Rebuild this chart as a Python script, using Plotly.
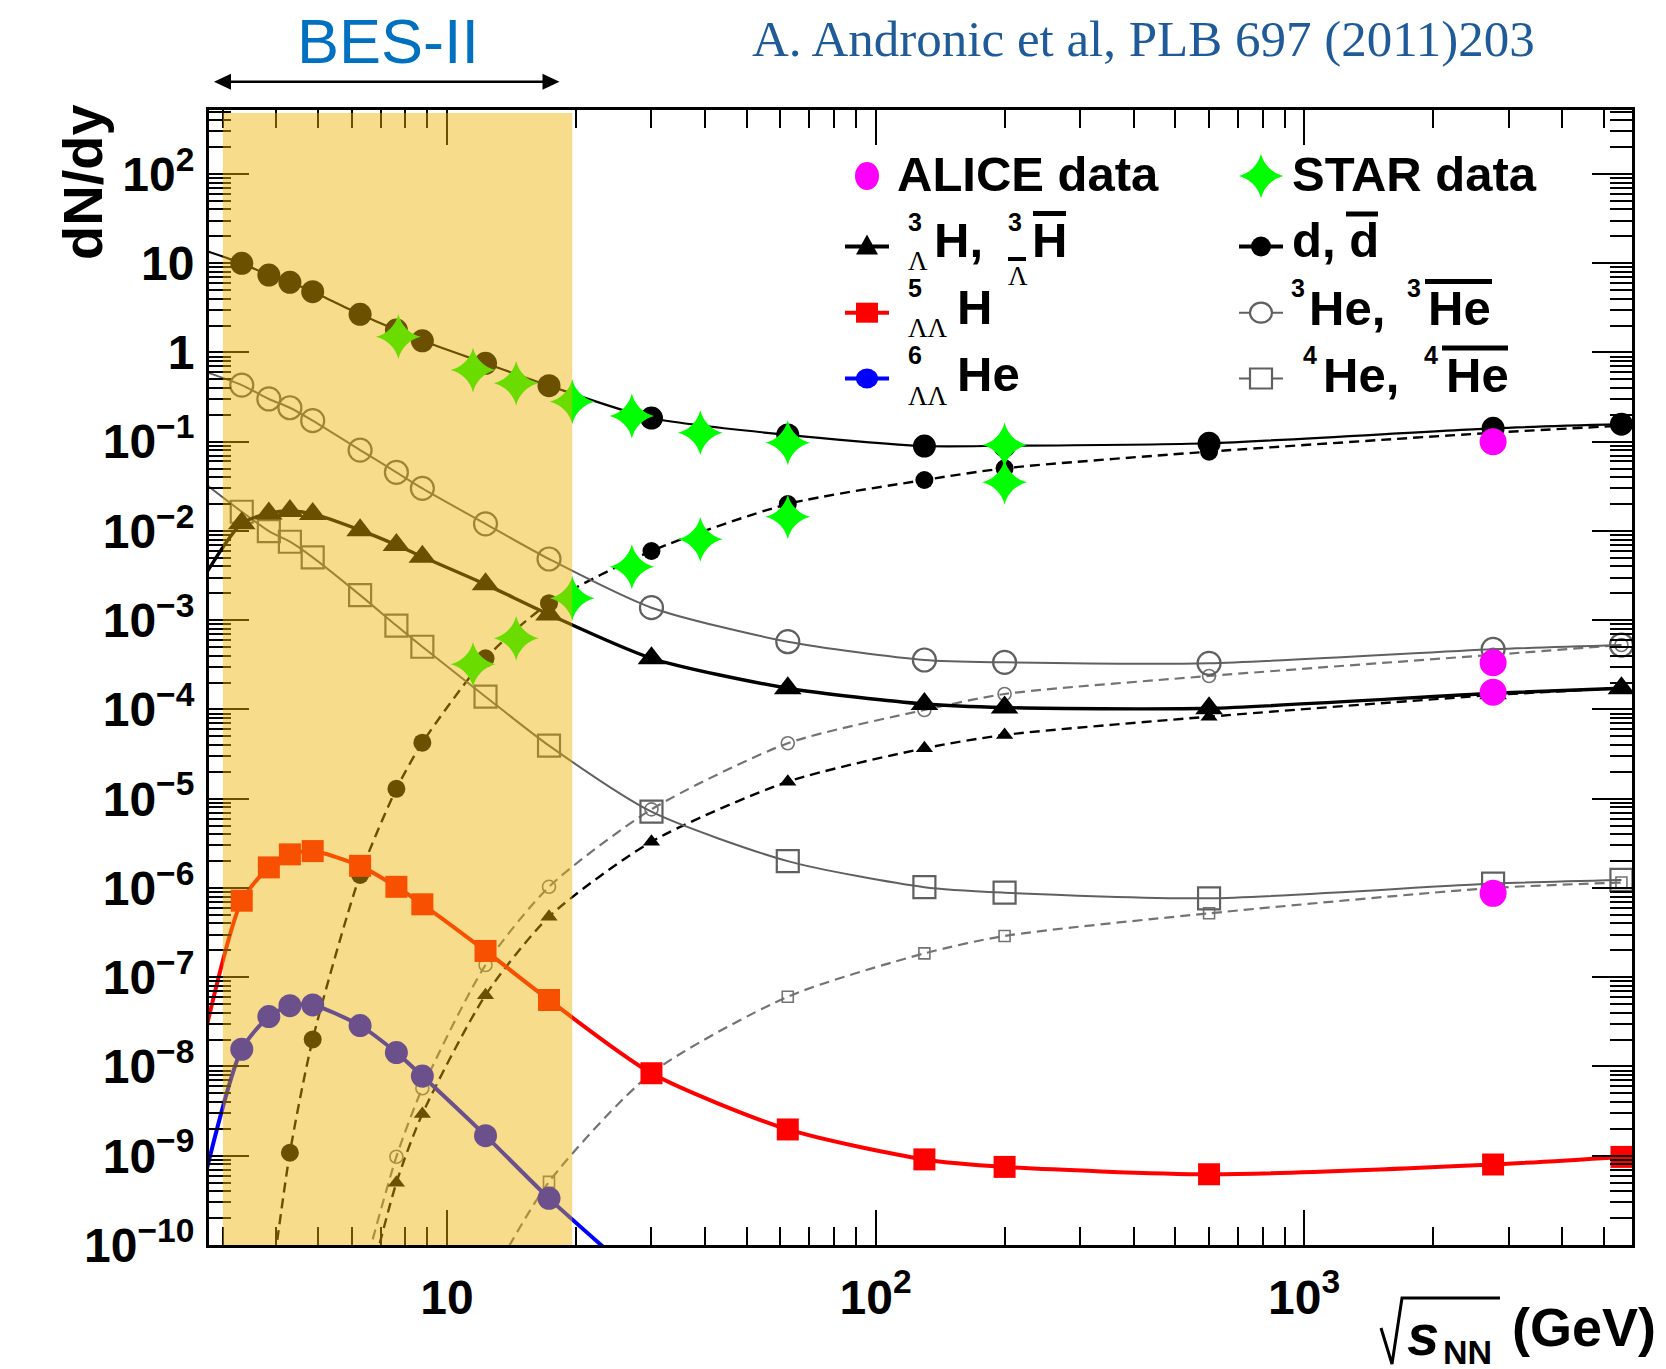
import math
import plotly.graph_objects as go

# ---------------------------------------------------------------------------
# Thermal-model yields dN/dy vs collision energy (GeV)
# ---------------------------------------------------------------------------
E_MODEL = [2.7, 3.32, 3.84, 4.3, 4.86, 6.27, 7.62, 8.76, 12.3, 17.3,
           30, 62.4, 130, 200, 600, 2760, 5500]

D = [14.1, 9.95, 7.36, 6.1, 4.79, 2.67, 1.78, 1.35, 0.755, 0.424,
     0.184, 0.119, 0.0894, 0.090, 0.096, 0.141, 0.157]
DBAR = [None, None, 2.2e-11, 1.08e-9, 2.01e-8, 1.4e-6, 1.29e-5, 4.24e-5, 3.74e-4, 1.55e-3,
        5.96e-3, 0.0200, 0.0372, 0.0503, 0.0773, 0.126, 0.151]
HE3 = [0.62, 0.431, 0.301, 0.240, 0.172, 0.0806, 0.0454, 0.0300, 0.0120, 4.85e-3,
       1.38e-3, 5.74e-4, 3.58e-4, 3.37e-4, 3.29e-4, 4.72e-4, 5.27e-4]
HE3BAR = [None, None, None, None, None, 3.5e-11, 9.75e-10, 5.7e-9, 1.37e-7, 1.03e-6,
          7.6e-6, 4.18e-5, 9.86e-5, 1.49e-4, 2.37e-4, 4.1e-4, 5.27e-4]
H3L = [2.96e-3, 0.01216, 0.0157, 0.0167, 0.0155, 0.0102, 6.95e-3, 5.14e-3, 2.52e-3, 1.16e-3,
       3.74e-4, 1.73e-4, 1.15e-4, 1.05e-4, 1.03e-4, 1.52e-4, 1.73e-4]
H3LBAR = [None, None, None, None, None, 1.4e-11, 4.99e-10, 2.94e-9, 6.3e-8, 4.76e-7,
          3.3e-6, 1.55e-5, 3.67e-5, 5.18e-5, 8.3e-5, 1.45e-4, 1.73e-4]
HE4 = [0.035, 0.0164, 9.97e-3, 7.57e-3, 5.06e-3, 1.91e-3, 8.7e-4, 5.04e-4, 1.39e-4, 3.93e-5,
       7.15e-6, 2.0e-6, 1.02e-6, 8.85e-7, 7.66e-7, 1.12e-6, 1.23e-6]
HE4BAR = [None, None, None, None, None, None, None, None, 3.3e-11, 5.1e-10,
          8.4e-9, 6.05e-8, 1.85e-7, 2.9e-7, 5.2e-7, 1.0e-6, 1.15e-6]
H5LL = [1.94e-8, 7.2e-7, 1.70e-6, 2.38e-6, 2.59e-6, 1.77e-6, 1.03e-6, 6.56e-7, 1.97e-7, 5.56e-8,
        8.4e-9, 1.97e-9, 9.1e-10, 7.5e-10, 6.2e-10, 7.98e-10, 9.7e-10]
HE6LL = [4.9e-10, 1.56e-8, 3.62e-8, 4.80e-8, 4.89e-8, 2.87e-8, 1.43e-8, 7.81e-9, 1.68e-9, 3.33e-10,
         3.2e-11, None, None, None, None, None, None]

# measured yields
E_STAR_D = [7.7, 11.5, 14.5, 19.6, 27, 39, 62.4, 200]
STAR_D = [1.50, 0.635, 0.451, 0.281, 0.194, 0.126, 0.0973, 0.0918]
E_STAR_DBAR = [11.5, 14.5, 19.6, 27, 39, 62.4, 200]
STAR_DBAR = [3.2e-4, 6.27e-4, 1.76e-3, 3.97e-3, 8.05e-3, 0.0144, 0.0351]
E_ALICE = [2760, 2760, 2760, 2760]
ALICE = [0.100, 3.34e-4, 1.56e-4, 8.7e-7]

# BES-II energy window (GeV)
BES_RANGE = [3.0, 19.6]

# axis tick labels
Y_DECADES = list(range(-10, 3))
X_TICKS = [10, 100, 1000]
X_TICKTEXT = ["10", "10<sup>2</sup>", "10<sup>3</sup>"]

# ---------------------------------------------------------------------------
W, H = 1666, 1369
PL, PR, PT, PB = 209, 1632, 110, 1245
XR = [0.4447, 3.765]
YR = [-10.0, 2.716]
FONT = "Liberation Sans"


def px(x):
    return (x - PL) / (PR - PL)


def py(y):
    return (PB - y) / (PB - PT)


def ytext(k):
    if k == 0:
        return "1"
    if k == 1:
        return "10"
    if k < 0:
        return "10<sup>\u2212%d</sup>" % (-k)
    return "10<sup>%d</sup>" % k


def pairs(xs, ys):
    return [(x, y) for x, y in zip(xs, ys) if y is not None]


def inside(xs, ys):
    lo_x, hi_x = 10 ** XR[0], 10 ** XR[1]
    lo_y, hi_y = 10 ** YR[0], 10 ** YR[1]
    return [(x, y) for x, y in pairs(xs, ys) if lo_x <= x <= hi_x and lo_y <= y <= hi_y]


fig = go.Figure()


def curve(ys, color, width, dash, symbol, msize, mline=None):
    pts = pairs(E_MODEL, ys)
    fig.add_trace(go.Scatter(
        x=[p[0] for p in pts], y=[p[1] for p in pts], mode="lines",
        line=dict(color=color, width=width, dash=dash, shape="spline", smoothing=0.7),
        showlegend=False, hoverinfo="skip"))
    vis = inside(E_MODEL, ys)
    mk = dict(symbol=symbol, size=msize, color=color)
    mk["line"] = dict(color=mline[0], width=mline[1]) if mline else dict(width=0)
    fig.add_trace(go.Scatter(
        x=[p[0] for p in vis], y=[p[1] for p in vis], mode="markers",
        marker=mk, showlegend=False, hoverinfo="skip"))


DASH = "10px,6px"
GREY = "#606060"
GREY_D = "#737373"

# antiparticles (dashed) first, then particles
curve(HE4BAR, GREY_D, 2.2, DASH, "square-open", 11, mline=(GREY_D, 1.6))
curve(HE3BAR, GREY_D, 2.2, DASH, "circle-open", 13, mline=(GREY_D, 1.6))
curve(H3LBAR, "black", 2.4, DASH, "triangle-up", 15)
curve(DBAR, "black", 2.4, DASH, "circle", 18)
curve(HE4, GREY, 2.0, "solid", "square-open", 22, mline=(GREY, 2.2))
curve(HE3, GREY, 2.0, "solid", "circle-open", 23, mline=(GREY, 2.2))
curve(H3L, "black", 3.4, "solid", "triangle-up", 24)
curve(D, "black", 2.2, "solid", "circle", 23)
curve(H5LL, "#ff0000", 4.0, "solid", "square", 22)
curve(HE6LL, "#0000ff", 4.0, "solid", "circle", 23)

# STAR and ALICE data
fig.add_trace(go.Scatter(
    x=E_STAR_D + E_STAR_DBAR, y=STAR_D + STAR_DBAR, mode="markers",
    marker=dict(symbol="star-diamond", size=32, color="#00ff00", line=dict(width=0)),
    showlegend=False, hoverinfo="skip"))
fig.add_trace(go.Scatter(
    x=E_ALICE, y=ALICE, mode="markers",
    marker=dict(symbol="circle", size=27, color="#ff00ff", line=dict(width=0)),
    showlegend=False, hoverinfo="skip"))

# ---------------------------------------------------------------------------
# axes
x_minor = [k * 10 ** d for d in range(0, 4) for k in range(2, 10)
           if XR[0] <= math.log10(k * 10 ** d) <= XR[1]]
y_minor = [k * 10.0 ** d for d in range(-10, 3) for k in range(2, 10)
           if math.log10(k * 10.0 ** d) <= YR[1]]

axis_common = dict(showline=True, linecolor="black", linewidth=3, mirror="allticks",
                   ticks="inside", tickcolor="black", tickwidth=2, showgrid=False,
                   zeroline=False, tickfont=dict(family=FONT, size=48, color="black", weight="bold"))

fig.update_xaxes(type="log", range=XR, tickmode="array", tickvals=X_TICKS, ticktext=X_TICKTEXT,
                 ticklen=35, ticklabelstandoff=8,
                 minor=dict(tickmode="array", tickvals=x_minor, ticks="inside", ticklen=18,
                            tickwidth=2, tickcolor="black"),
                 **axis_common)
fig.update_yaxes(type="log", range=YR, tickmode="array",
                 tickvals=[10.0 ** k for k in Y_DECADES], ticktext=[ytext(k) for k in Y_DECADES],
                 ticklen=40, ticklabelstandoff=2,
                 minor=dict(tickmode="array", tickvals=y_minor, ticks="inside", ticklen=22,
                            tickwidth=2, tickcolor="black"),
                 **axis_common)

# ---------------------------------------------------------------------------
shapes = []
ann = []

# BES-II band, drawn over everything as a translucent overlay
bx0 = (math.log10(BES_RANGE[0]) - XR[0]) / (XR[1] - XR[0])
bx1 = (math.log10(BES_RANGE[1]) - XR[0]) / (XR[1] - XR[0])
shapes.append(dict(type="rect", xref="paper", yref="paper", x0=bx0, x1=bx1, y0=0.0, y1=py(113),
                   fillcolor="rgba(238,178,0,0.45)", line=dict(width=0), layer="above"))

# double arrow over the band
ARROW_Y, AX0, AX1, HL, HH = 81.7, 214, 559.5, 17, 8
shapes.append(dict(type="line", xref="paper", yref="paper", x0=px(AX0 + 8), x1=px(AX1 - 8),
                   y0=py(ARROW_Y), y1=py(ARROW_Y), line=dict(color="black", width=2.5)))


def path(points):
    return "M " + " L ".join("%.5f,%.5f" % (px(a), py(b)) for a, b in points) + " Z"


shapes.append(dict(type="path", xref="paper", yref="paper", fillcolor="black", line=dict(width=0),
                   path=path([(AX0, ARROW_Y), (AX0 + HL, ARROW_Y - HH), (AX0 + HL, ARROW_Y + HH)])))
shapes.append(dict(type="path", xref="paper", yref="paper", fillcolor="black", line=dict(width=0),
                   path=path([(AX1, ARROW_Y), (AX1 - HL, ARROW_Y - HH), (AX1 - HL, ARROW_Y + HH)])))


def text(x, y, s, size, color="black", family=FONT, weight="bold", style="normal", angle=0,
         xanchor="left"):
    ann.append(dict(xref="paper", yref="paper", x=px(x), y=py(y), text=s, showarrow=False,
                    xanchor=xanchor, yanchor="middle", textangle=angle,
                    font=dict(family=family, size=size, color=color, weight=weight, style=style)))


def hline(x0, x1, y, width=4, color="black"):
    shapes.append(dict(type="line", xref="paper", yref="paper", x0=px(x0), x1=px(x1),
                       y0=py(y), y1=py(y), line=dict(color=color, width=width)))


text(388, 41, "BES-II", 63, color="#0070c0", weight="normal", xanchor="center")
text(1143, 39, "A. Andronic et al, PLB 697 (2011)203", 51, color="#1f5a99",
     family="Liberation Serif", weight="normal", xanchor="center")

# axis titles
text(82, 182, "dN/dy", 56, angle=-90, xanchor="center")
shapes.append(dict(type="path", xref="paper", yref="paper", line=dict(color="black", width=3),
                   path="M %.5f,%.5f L %.5f,%.5f L %.5f,%.5f L %.5f,%.5f" % (
                       px(1381), py(1328), px(1392), py(1364), px(1402), py(1298), px(1500), py(1298))))
text(1423, 1334, "s", 58, style="italic", xanchor="center")
text(1441, 1352, "NN", 34)
text(1510, 1327, "(GeV)", 54)

# legend
LX1, LX2 = 867, 1261
ROWS = [176, 246.5, 312.7, 378.5]
GREEK = "Liberation Serif"

# row 1: data
shapes.append(dict(type="circle", xref="paper", yref="paper", x0=px(LX1 - 12), x1=px(LX1 + 12),
                   y0=py(ROWS[0] - 14), y1=py(ROWS[0] + 14), fillcolor="#ff00ff", line=dict(width=0)))
text(895, 174, "ALICE data", 49)
r = ROWS[0]
shapes.append(dict(type="path", xref="paper", yref="paper", fillcolor="#00ff00", line=dict(width=0),
                   path="M %.5f,%.5f Q %.5f,%.5f %.5f,%.5f Q %.5f,%.5f %.5f,%.5f Q %.5f,%.5f %.5f,%.5f Q %.5f,%.5f %.5f,%.5f Z" % (
                       px(LX2), py(r - 22),
                       px(LX2 + 5), py(r - 5), px(LX2 + 22), py(r),
                       px(LX2 + 5), py(r + 5), px(LX2), py(r + 22),
                       px(LX2 - 5), py(r + 5), px(LX2 - 22), py(r),
                       px(LX2 - 5), py(r - 5), px(LX2), py(r - 22))))
text(1290, 174, "STAR data", 49)

# row 2: hypertriton / deuteron
r = ROWS[1]
hline(845, 889, r, 4)
shapes.append(dict(type="path", xref="paper", yref="paper", fillcolor="black", line=dict(width=0),
                   path=path([(LX1 - 11, r + 8), (LX1 + 11, r + 8), (LX1, r - 12)])))
text(906, 222, "3", 25)
text(906, 261, "\u039b", 27, family=GREEK, weight="normal")
text(932, 240, "H,", 49)
text(1006, 222, "3", 25)
text(1006, 276, "\u039b", 27, family=GREEK, weight="normal")
hline(1008, 1026, 259, 4)
text(1030, 240, "H", 49)
hline(1033, 1066, 213.5, 5)

hline(1239, 1283, r, 4)
shapes.append(dict(type="circle", xref="paper", yref="paper", x0=px(LX2 - 10), x1=px(LX2 + 10),
                   y0=py(r - 10), y1=py(r + 10), fillcolor="black", line=dict(width=0)))
text(1290, 240, "d, d", 49)
hline(1346, 1378, 214, 5)

# row 3: 5-LL-H / helium-3
r = ROWS[2]
hline(845, 889, r, 4, "#ff0000")
shapes.append(dict(type="rect", xref="paper", yref="paper", x0=px(LX1 - 11), x1=px(LX1 + 11),
                   y0=py(r - 10), y1=py(r + 10), fillcolor="#ff0000", line=dict(width=0)))
text(906, 288, "5", 25)
text(906, 328, "\u039b\u039b", 27, family=GREEK, weight="normal")
text(955, 307, "H", 49)

hline(1239, 1283, r, 2, GREY)
shapes.append(dict(type="circle", xref="paper", yref="paper", x0=px(LX2 - 11), x1=px(LX2 + 11),
                   y0=py(r - 10), y1=py(r + 10), fillcolor="white", line=dict(color=GREY, width=2.2)))
text(1289, 288, "3", 25)
text(1307, 308, "He,", 49)
text(1405, 288, "3", 25)
text(1426, 308, "He", 49)
hline(1425, 1492, 281.5, 5)

# row 4: 6-LL-He / helium-4
r = ROWS[3]
hline(845, 889, r, 4, "#0000ff")
shapes.append(dict(type="circle", xref="paper", yref="paper", x0=px(LX1 - 11), x1=px(LX1 + 11),
                   y0=py(r - 10), y1=py(r + 10), fillcolor="#0000ff", line=dict(width=0)))
text(906, 355, "6", 25)
text(906, 396, "\u039b\u039b", 27, family=GREEK, weight="normal")
text(955, 374, "He", 49)

hline(1239, 1283, r, 2, GREY)
shapes.append(dict(type="rect", xref="paper", yref="paper", x0=px(LX2 - 11), x1=px(LX2 + 11),
                   y0=py(r - 10), y1=py(r + 10), fillcolor="white", line=dict(color=GREY, width=2.2)))
text(1301, 355, "4", 25)
text(1321, 375, "He,", 49)
text(1422, 355, "4", 25)
text(1444, 375, "He", 49)
hline(1442, 1508, 348, 5)

fig.update_layout(
    width=W, height=H, autosize=False,
    margin=dict(l=PL, r=W - PR, t=PT, b=H - PB, pad=0),
    paper_bgcolor="white", plot_bgcolor="white",
    font=dict(family=FONT, color="black"),
    shapes=shapes, annotations=ann, showlegend=False,
)

fig.write_html("out.html")
